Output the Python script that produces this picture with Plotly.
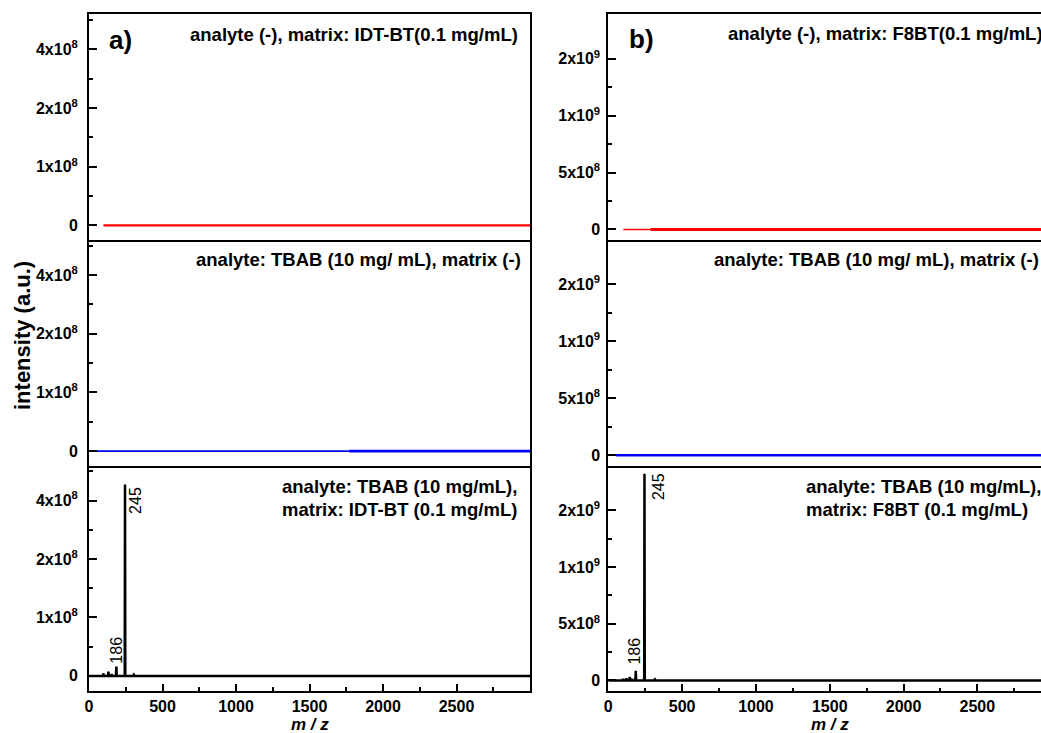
import numpy as np
import plotly.graph_objects as go

W, H = 1041, 733

# ---------------- data ----------------
# panel a : matrix IDT-BT
a_top_mz = [98, 3000]
a_top_int = [0, 0]
a_mid_mz_thin = [52, 1770]
a_mid_int_thin = [0, 0]
a_mid_mz_thick = [1770, 3000]
a_mid_int_thick = [0, 0]
a_bot_mz = [0, 95, 98, 101, 128, 132, 136, 150, 154, 158, 183, 186, 189,
            243, 245, 246, 247, 300, 305, 310, 3000]
a_bot_int = [0, 0, 4e6, 0, 0, 7e6, 0, 0, 3e6, 0, 0, 1.6e7, 0,
             0, 4.55e8, 5.3e7, 0, 0, 2e6, 0, 0]

# panel b : matrix F8BT
b_top_mz_thin = [102, 285]
b_top_int_thin = [0, 0]
b_top_mz_thick = [285, 3000]
b_top_int_thick = [0, 0]
b_mid_mz = [52, 3000]
b_mid_int = [0, 0]
b_bot_mz = [0, 95, 100, 105, 118, 122, 126, 140, 145, 150, 158, 162, 166,
            183, 186, 189, 243, 245, 247, 310, 316, 322, 3000]
b_bot_int = [0, 0, 1.2e7, 0, 0, 2e7, 0, 0, 3e7, 0, 0, 1.5e7, 0,
             0, 8.5e7, 0, 0, 2.64e9, 0, 0, 1e7, 0, 0]

# axis tick definitions (custom non-linear intensity axis)
a_breaks = [0, 1e8, 2e8, 4e8]
a_tick_text = ["0", "1x10<sup>8</sup>", "2x10<sup>8</sup>", "4x10<sup>8</sup>"]
a_minor_vals = [0.5e8, 1.5e8, 3e8, 5e8]
b_breaks = [0, 5e8, 1e9, 2e9]
b_tick_text = ["0", "5x10<sup>8</sup>", "1x10<sup>9</sup>", "2x10<sup>9</sup>"]
b_minor_vals = [2.5e8, 7.5e8, 1.5e9, 3e9]
x_tick_vals = [0, 500, 1000, 1500, 2000, 2500]
x_minor_vals = [250, 750, 1250, 1750, 2250, 2750]

# peak labels (m/z, intensity position)
a_peak_labels = [("186", 187, 0.44e8), ("245", 315, 4.0e8)]
b_peak_labels = [("186", 181, 2.55e8), ("245", 345, 2.41e9)]

panel_texts_a = ["analyte (-), matrix: IDT-BT(0.1 mg/mL)",
                 "analyte: TBAB (10 mg/ mL), matrix (-)",
                 "analyte: TBAB (10 mg/mL),",
                 "matrix: IDT-BT (0.1 mg/mL)"]
panel_texts_b = ["analyte (-), matrix: F8BT(0.1 mg/mL)",
                 "analyte: TBAB (10 mg/ mL), matrix (-)",
                 "analyte: TBAB (10 mg/mL),",
                 "matrix: F8BT (0.1 mg/mL)"]


def scale(v, brk):
    v = np.asarray(v, dtype=float)
    pos = np.arange(len(brk), dtype=float)
    out = np.interp(v, brk, pos)
    slope = 1.0 / (brk[-1] - brk[-2])
    above = v > brk[-1]
    out[above] = pos[-1] + (v[above] - brk[-1]) * slope
    return out


FONT = "Arial, Liberation Sans, sans-serif"
RED, BLUE, BLACK = "#ff0000", "#0000ff", "#000000"

fig = go.Figure()


def add_line(x, y, brk, xa, ya, color, width):
    fig.add_trace(go.Scatter(x=x, y=scale(y, brk), mode="lines",
                             line=dict(color=color, width=width),
                             xaxis=xa, yaxis=ya, showlegend=False,
                             hoverinfo="skip"))


add_line(a_top_mz, a_top_int, a_breaks, "x", "y", RED, 2.2)
add_line(a_mid_mz_thin, a_mid_int_thin, a_breaks, "x2", "y2", BLUE, 1.6)
add_line(a_mid_mz_thick, a_mid_int_thick, a_breaks, "x2", "y2", BLUE, 2.6)
add_line(a_bot_mz, a_bot_int, a_breaks, "x3", "y3", BLACK, 2.5)
add_line(b_top_mz_thin, b_top_int_thin, b_breaks, "x4", "y4", RED, 1.5)
add_line(b_top_mz_thick, b_top_int_thick, b_breaks, "x4", "y4", RED, 3)
add_line(b_mid_mz, b_mid_int, b_breaks, "x5", "y5", BLUE, 2.5)
add_line(b_bot_mz, b_bot_int, b_breaks, "x6", "y6", BLACK, 2.5)


def px_x(p):
    return p / W


def px_y(p):
    return 1 - p / H


xa_dom = [px_x(89), px_x(530)]
xb_dom = [px_x(608.3), 1.0]
rows_a = [(14.3, 240), (240, 465.8), (465.8, 690.5)]
rows_b = [(14.3, 240), (240, 465.8), (465.8, 691.0)]

layout = dict(width=W, height=H, margin=dict(l=0, r=0, t=0, b=0),
              paper_bgcolor="white", plot_bgcolor="white",
              font=dict(family=FONT, color="black"), showlegend=False)

tickfont_y = dict(family=FONT, size=16, color="black", weight="bold")
tickfont_x = dict(family=FONT, size=16, color="black", weight="bold")

for col in range(2):
    brk = a_breaks if col == 0 else b_breaks
    ttext = a_tick_text if col == 0 else b_tick_text
    minors = a_minor_vals if col == 0 else b_minor_vals
    xdom = xa_dom if col == 0 else xb_dom
    xrange = [0, 3000] if col == 0 else [0, 2931]
    yrange = [-0.25, 3.595] if col == 0 else [-0.185, 3.78]
    rows = rows_a if col == 0 else rows_b
    for r in range(3):
        idx = col * 3 + r + 1
        xname = "xaxis" if idx == 1 else f"xaxis{idx}"
        yname = "yaxis" if idx == 1 else f"yaxis{idx}"
        xid = "x" if idx == 1 else f"x{idx}"
        yid = "y" if idx == 1 else f"y{idx}"
        bottom = r == 2
        xax = dict(domain=xdom, range=xrange, anchor=yid, showgrid=False,
                   zeroline=False, showline=True, mirror=(r == 0), linewidth=2,
                   linecolor="black", automargin=False, fixedrange=True)
        if bottom:
            xax.update(tickmode="array", tickvals=x_tick_vals,
                       ticktext=[str(v) for v in x_tick_vals],
                       ticks="inside", ticklen=7, tickwidth=2, tickcolor="black",
                       tickfont=tickfont_x, ticklabelstandoff=0,
                       minor=dict(tickvals=x_minor_vals, ticks="inside",
                                  ticklen=3.5, tickwidth=2, tickcolor="black"))
        else:
            xax.update(showticklabels=False, ticks="")
        yax = dict(domain=[px_y(rows[r][1]), px_y(rows[r][0])], range=yrange,
                   anchor=xid, showgrid=False, zeroline=False, showline=True,
                   mirror=(col == 0), linewidth=2, linecolor="black",
                   tickmode="array", tickvals=list(scale(brk, brk)),
                   ticktext=ttext, ticks="inside", ticklen=8, tickwidth=2,
                   tickcolor="black", tickfont=tickfont_y, automargin=False,
                   ticklabelstandoff=(6 if col == 0 else 3), fixedrange=True,
                   minor=dict(tickvals=list(scale(minors, brk)), ticks="inside",
                              ticklen=4, tickwidth=2, tickcolor="black"))
        layout[xname] = xax
        layout[yname] = yax

fig.update_layout(**layout)

ann = []
TF = dict(family=FONT, size=18.5, color="black", weight="bold")


def add_ann(text, x, y, xanchor="left", yanchor="middle", font=TF, angle=0,
            xref="paper", yref="paper"):
    ann.append(dict(text=text, x=x, y=y, xref=xref, yref=yref,
                    xanchor=xanchor, yanchor=yanchor, showarrow=False,
                    font=font, textangle=angle, borderpad=0))


# panel letters
LF = dict(family=FONT, size=26, color="black", weight="bold")
add_ann("a)", px_x(108), px_y(39.5), font=LF)
add_ann("b)", px_x(627.5), px_y(38.7), font=LF)

# left column texts
add_ann(panel_texts_a[0], px_x(519), px_y(34), xanchor="right")
add_ann(panel_texts_a[1], px_x(522), px_y(259.3), xanchor="right")
add_ann(panel_texts_a[2], px_x(281), px_y(486.7))
add_ann(panel_texts_a[3], px_x(281), px_y(509.3))
# right column texts
add_ann(panel_texts_b[0], px_x(726.7), px_y(33.3))
add_ann(panel_texts_b[1], px_x(712.7), px_y(259.3))
add_ann(panel_texts_b[2], px_x(805), px_y(486))
add_ann(panel_texts_b[3], px_x(805), px_y(509.3))

# peak labels
PF = dict(family=FONT, size=16, color="black")
for t, mz, v in a_peak_labels:
    add_ann(t, mz, float(scale([v], a_breaks)[0]), xanchor="center",
            font=PF, angle=-90, xref="x3", yref="y3")
for t, mz, v in b_peak_labels:
    add_ann(t, mz, float(scale([v], b_breaks)[0]), xanchor="center",
            font=PF, angle=-90, xref="x6", yref="y6")

# axis titles
XF = dict(family=FONT, size=17, color="black", weight="bold", style="italic")
add_ann("m / z", px_x(309.5), px_y(724), xanchor="center", font=XF)
add_ann("m / z", px_x(829.7), px_y(724), xanchor="center", font=XF)
YF = dict(family=FONT, size=22, color="black", weight="bold")
add_ann("intensity (a.u.)", px_x(22), px_y(336), xanchor="center",
        font=YF, angle=-90)

fig.update_layout(annotations=ann)
fig.write_html("out.html")
